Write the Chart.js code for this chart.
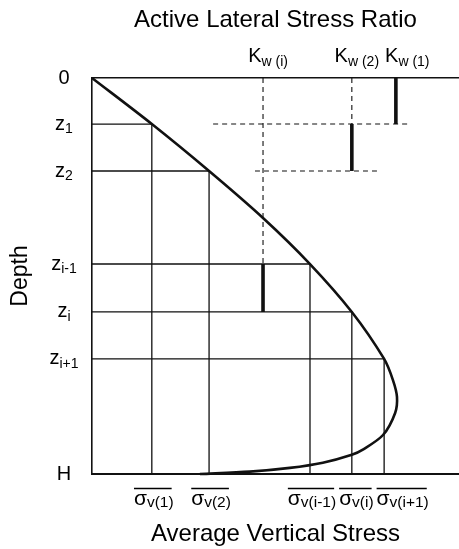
<!DOCTYPE html>
<html><head><meta charset="utf-8">
<script src="https://cdn.jsdelivr.net/npm/chart.js@4.4.1/dist/chart.umd.min.js"></script>
<style>html,body{margin:0;padding:0;background:#fff;} #wrap{width:459px;height:549px;}</style>
</head><body><div id="wrap"><canvas id="c" width="459" height="549"></canvas></div>
<script>
// ---- data ----
const H = 8.43;
const depthTickValues = [0, 0.98, 1.98, 3.96, 4.98, 5.98, H];
const depthTickMain = ['0', 'z', 'z', 'z', 'z', 'z', 'H'];
const depthTickSub = ['', '1', '2', 'i-1', 'i', 'i+1', ''];

const layerDepths = [0.98, 1.98, 3.96, 4.98, 5.98];
const avgStress = [1.63, 3.19, 5.94, 7.08, 7.96];
const stressTickMain = ['σ', 'σ', 'σ', 'σ', 'σ'];
const stressTickSub = ['v(1)', 'v(2)', 'v(i-1)', 'v(i)', 'v(i+1)'];

const curveStress = [0, 1.63, 3.19, 4.66, 5.94, 7.08, 7.96, 8.20, 8.31, 8.26, 7.93, 7.38, 7.08, 6.29, 5.39, 4.30, 2.94];
const curveDepth  = [0, 0.98, 1.98, 2.98, 3.96, 4.98, 5.98, 6.43, 6.79, 7.13, 7.60, 7.91, 8.02, 8.19, 8.30, 8.38, 8.43];

const kRatio = [4.66, 7.08, 8.28];
const kTickMain = ['K', 'K', 'K'];
const kTickSub = ['w (i)', 'w (2)', 'w (1)'];
const kFromDepth = [3.96, 0.98, 0];
const kToDepth = [4.98, 1.98, 0.98];

const dashDepths = [0.98, 1.98];
const dashFrom = [3.30, 4.44];
const dashTo = [8.66, 7.79];

// ---- build datasets ----
const INK = '#111';
const datasets = [];
datasets.push({
  label: 'curve', data: curveStress.map((x, i) => ({x, y: curveDepth[i]})),
  showLine: true, borderColor: INK, borderWidth: 2.6, pointRadius: 0, tension: 0.3, clip: false
});
layerDepths.forEach((z, i) => {
  datasets.push({
    label: 'layer' + i, data: [{x: 0, y: z}, {x: avgStress[i], y: z}, {x: avgStress[i], y: H}],
    showLine: true, borderColor: INK, borderWidth: 1.3, pointRadius: 0, tension: 0, clip: false
  });
});
kRatio.forEach((k, i) => {
  datasets.push({
    label: 'K' + i, data: [{x: k, y: kFromDepth[i]}, {x: k, y: kToDepth[i]}],
    showLine: true, borderColor: INK, borderWidth: 3.6, pointRadius: 0, clip: false
  });
  if (kFromDepth[i] > 0) {
    datasets.push({
      label: 'Kguide' + i, data: [{x: k, y: 0}, {x: k, y: kFromDepth[i]}],
      showLine: true, borderColor: INK, borderWidth: 1.1, borderDash: [5, 4], pointRadius: 0, clip: false
    });
  }
});
dashDepths.forEach((z, i) => {
  datasets.push({
    label: 'dash' + i, data: [{x: dashFrom[i], y: z}, {x: dashTo[i], y: z}],
    showLine: true, borderColor: INK, borderWidth: 1.1, borderDash: [5, 4], pointRadius: 0, clip: false
  });
});

const FONT = "'Liberation Sans', Arial, sans-serif";

function measure(ctx, main, sub, mf, sf) {
  ctx.font = mf; const w1 = ctx.measureText(main).width;
  ctx.font = sf; const w2 = sub ? ctx.measureText(sub).width : 0;
  return {w1, w2, w: w1 + w2};
}
function drawLab(ctx, main, sub, x0, y, mf, sf, dy, base) {
  ctx.textAlign = 'left'; ctx.textBaseline = base;
  ctx.font = mf; ctx.fillText(main, x0, y);
  const w1 = ctx.measureText(main).width;
  if (sub) { ctx.font = sf; ctx.fillText(sub, x0 + w1, y + dy); }
}
function placeRow(centers, widths, gap) {
  const starts = centers.map((c, i) => c - widths[i] / 2);
  for (let i = 1; i < starts.length; i++) {
    const minStart = starts[i - 1] + widths[i - 1] + gap;
    if (starts[i] < minStart) starts[i] = minStart;
  }
  return starts;
}

const labelPlugin = {
  id: 'labels',
  afterDraw(chart) {
    const ctx = chart.ctx;
    const xs = chart.scales.x, ys = chart.scales.y, xt = chart.scales.x2;
    const area = chart.chartArea;
    ctx.save();
    ctx.fillStyle = '#000';
    // depth ticks
    const mfY = '20px ' + FONT, sfY = '14px ' + FONT;
    depthTickValues.forEach((v, i) => {
      const y = ys.getPixelForValue(v);
      const m = measure(ctx, depthTickMain[i], depthTickSub[i], mfY, sfY);
      drawLab(ctx, depthTickMain[i], depthTickSub[i], 64 - m.w / 2, y, mfY, sfY, 5, 'middle');
    });
    // stress ticks
    const mfS = '21px ' + FONT, sfS = '15.5px ' + FONT;
    const sW = avgStress.map((v, i) => measure(ctx, stressTickMain[i], stressTickSub[i], mfS, sfS).w);
    const sStarts = placeRow(avgStress.map(v => xs.getPixelForValue(v) + 2), sW, 3);
    const yS = area.bottom + 31;
    ctx.strokeStyle = '#000'; ctx.lineWidth = 1.4;
    avgStress.forEach((v, i) => {
      drawLab(ctx, stressTickMain[i], stressTickSub[i], sStarts[i], yS, mfS, sfS, 2, 'alphabetic');
      ctx.beginPath();
      ctx.moveTo(sStarts[i], area.bottom + 14.5);
      ctx.lineTo(sStarts[i] + sW[i] - 2, area.bottom + 14.5);
      ctx.stroke();
    });
    // K ticks
    const mfK = '20px ' + FONT, sfK = '14px ' + FONT;
    const kW = kRatio.map((v, i) => measure(ctx, kTickMain[i], kTickSub[i], mfK, sfK).w);
    const kStarts = placeRow(kRatio.map(v => xt.getPixelForValue(v) + 5), kW, 6);
    kRatio.forEach((v, i) => {
      drawLab(ctx, kTickMain[i], kTickSub[i], kStarts[i], area.top - 16, mfK, sfK, 4, 'alphabetic');
    });
    ctx.restore();
  }
};

new Chart(document.getElementById('c'), {
  type: 'scatter',
  data: {datasets},
  options: {
    responsive: false, animation: false, events: [],
    layout: {padding: 0},
    plugins: {legend: {display: false}, tooltip: {enabled: false}, title: {display: false}},
    scales: {
      x: {
        type: 'linear', position: 'bottom', min: 0, max: 10,
        grid: {display: false}, ticks: {display: false},
        border: {display: true, color: INK, width: 2},
        title: {display: true, text: 'Average Vertical Stress', color: '#000',
                font: {family: FONT, size: 24}, padding: {top: 0, bottom: 0}},
        afterFit(s) { s.height = 75; }
      },
      x2: {
        type: 'linear', position: 'top', min: 0, max: 10,
        grid: {display: false}, ticks: {display: false},
        border: {display: true, color: INK, width: 1.5},
        title: {display: true, text: 'Active Lateral Stress Ratio', color: '#000',
                font: {family: FONT, size: 24}, padding: {top: 6, bottom: 0}},
        afterFit(s) { s.height = 78; }
      },
      y: {
        type: 'linear', position: 'left', min: 0, max: H, reverse: true,
        grid: {display: false}, ticks: {display: false},
        border: {display: true, color: INK, width: 1.6},
        title: {display: true, text: 'Depth', color: '#000',
                font: {family: FONT, size: 23}, padding: {top: 7, bottom: 0}},
        afterFit(s) { s.width = 92; }
      }
    }
  },
  plugins: [labelPlugin]
});
</script>
</body></html>
